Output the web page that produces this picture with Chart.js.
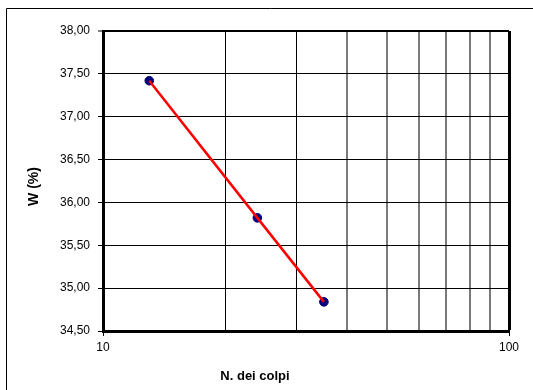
<!DOCTYPE html>
<html>
<head>
<meta charset="utf-8">
<script src="https://cdn.jsdelivr.net/npm/chart.js@4/dist/chart.umd.min.js"></script>
<style>
  html, body { margin: 0; padding: 0; background: #fff; }
  #wrap { width: 533px; height: 390px; position: relative; }
</style>
</head>
<body>
<div id="wrap"><canvas id="c" width="533" height="390"></canvas></div>
<script>
// Casagrande test: number of blows vs. water content
const blows = [13, 24, 35];
const waterContent = [37.42, 35.82, 34.84];

const xTickValues = [10, 20, 30, 40, 50, 60, 70, 80, 90, 100];
const xLabelled = [10, 100];
const yMin = 34.5, yMax = 38.0, yStep = 0.5;

const xTitle = 'N. dei colpi';
const yTitle = 'W (%)';

const points = blows.map((b, i) => ({ x: b, y: waterContent[i] }));

const FONT = '"Liberation Sans", Arial, Helvetica, sans-serif';
Chart.defaults.font.family = FONT;
Chart.defaults.color = '#000';

// white background, outer frame and the two axis captions
const frameAndCaptions = {
  id: 'frameAndCaptions',
  beforeDraw(chart) {
    const ctx = chart.ctx;
    ctx.save();
    ctx.fillStyle = '#fff';
    ctx.fillRect(0, 0, chart.width, chart.height);
    ctx.strokeStyle = '#000';
    ctx.lineWidth = 1;
    ctx.beginPath();
    ctx.moveTo(6.5, chart.height + 2);
    ctx.lineTo(6.5, 8.5);
    ctx.lineTo(chart.width + 2, 8.5);
    ctx.stroke();
    ctx.restore();
  },
  afterDraw(chart) {
    const ctx = chart.ctx;
    ctx.save();
    ctx.fillStyle = '#000';
    ctx.textAlign = 'center';
    ctx.textBaseline = 'middle';
    ctx.font = 'bold 13px ' + FONT;
    ctx.fillText(xTitle, 255, 376);
    ctx.translate(34, 186.5);
    ctx.rotate(-Math.PI / 2);
    ctx.font = 'bold 14px ' + FONT;
    ctx.fillText(yTitle, 0, 0);
    ctx.restore();
  }
};

new Chart(document.getElementById('c'), {
  type: 'scatter',
  data: {
    datasets: [
      {
        // fitted line, drawn above the markers
        data: points,
        showLine: true,
        borderColor: '#ff0000',
        borderWidth: 2.5,
        pointRadius: 0,
        pointHoverRadius: 0,
        fill: false,
        tension: 0
      },
      {
        data: points,
        showLine: false,
        pointRadius: 4.3,
        pointBackgroundColor: '#000080',
        pointBorderColor: '#00006a',
        pointBorderWidth: 1
      }
    ]
  },
  options: {
    responsive: false,
    animation: false,
    events: [],
    layout: { padding: { left: 0, top: 31, right: 24, bottom: 0 } },
    plugins: { legend: { display: false }, tooltip: { enabled: false }, title: { display: false } },
    scales: {
      x: {
        type: 'logarithmic',
        min: 10,
        max: 100,
        afterBuildTicks(scale) {
          scale.ticks = xTickValues.map(v => ({ value: v }));
        },
        afterFit(scale) { scale.height = 59; },
        ticks: {
          autoSkip: false,
          maxRotation: 0,
          padding: 4,
          font: { size: 12 },
          color: '#000',
          callback: (v) => xLabelled.includes(v) ? String(v) : ''
        },
        grid: {
          drawOnChartArea: true,
          drawTicks: true,
          tickLength: 5,
          tickWidth: 1,
          tickColor: (c) => (c.tick && xLabelled.includes(c.tick.value)) ? '#000' : 'rgba(0,0,0,0)',
          color: (c) => {
            const v = c.tick ? c.tick.value : 0;
            if (v === 10) return 'rgba(0,0,0,0)';
            if (v >= 40 && v < 100) return '#7a7a7a';
            return '#000';
          },
          lineWidth: (c) => {
            const v = c.tick ? c.tick.value : 0;
            if (v === 100) return 3;
            if (v >= 40) return 2;
            return 1;
          }
        },
        border: { display: true, color: '#000', width: 3 }
      },
      y: {
        type: 'linear',
        min: yMin,
        max: yMax,
        afterFit(scale) { scale.width = 103; },
        ticks: {
          stepSize: yStep,
          padding: 8,
          font: { size: 12 },
          color: '#000',
          callback: (v) => Number(v).toFixed(2).replace('.', ',')
        },
        grid: {
          drawOnChartArea: true,
          drawTicks: true,
          tickLength: 5,
          tickWidth: 1,
          tickColor: '#000',
          color: (c) => (c.tick && c.tick.value === yMin) ? 'rgba(0,0,0,0)' : '#000',
          lineWidth: (c) => (c.tick && c.tick.value === yMax) ? 2 : 1
        },
        border: { display: true, color: '#000', width: 3 }
      }
    }
  },
  plugins: [frameAndCaptions]
});
</script>
</body>
</html>
